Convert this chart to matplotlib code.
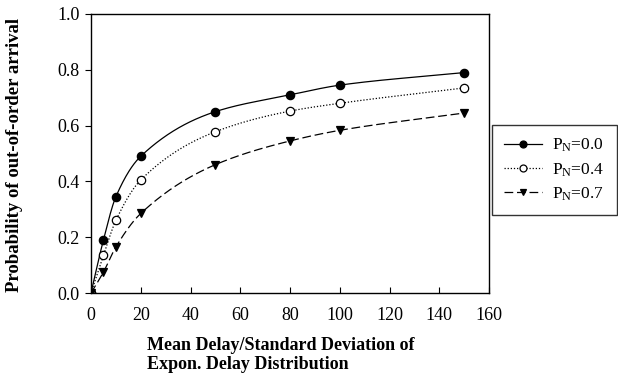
import numpy as np
import matplotlib
matplotlib.use("Agg")
import matplotlib.pyplot as plt

x = [0, 5, 10, 20, 50, 80, 100, 150]
p00 = [0.0, 0.19, 0.345, 0.49, 0.65, 0.71, 0.745, 0.79]
p04 = [0.0, 0.135, 0.26, 0.405, 0.578, 0.652, 0.68, 0.735]
p07 = [0.0, 0.075, 0.165, 0.285, 0.46, 0.545, 0.583, 0.645]
labels = [r"$\mathregular{P_N}$=0.0", r"$\mathregular{P_N}$=0.4", r"$\mathregular{P_N}$=0.7"]
xticks = [0, 20, 40, 60, 80, 100, 120, 140, 160]
yticks = [0.0, 0.2, 0.4, 0.6, 0.8, 1.0]


def pchip(xs, ys, xn):
    xs = np.asarray(xs, float); ys = np.asarray(ys, float)
    h = np.diff(xs); d = np.diff(ys) / h
    m = np.zeros_like(ys)
    for k in range(1, len(xs) - 1):
        if d[k - 1] * d[k] > 0:
            w1 = 2 * h[k] + h[k - 1]; w2 = h[k] + 2 * h[k - 1]
            m[k] = (w1 + w2) / (w1 / d[k - 1] + w2 / d[k])
    m[0] = d[0]; m[-1] = d[-1]
    idx = np.clip(np.searchsorted(xs, xn) - 1, 0, len(xs) - 2)
    t = (xn - xs[idx]) / h[idx]
    h00 = 2 * t**3 - 3 * t**2 + 1; h10 = t**3 - 2 * t**2 + t
    h01 = -2 * t**3 + 3 * t**2; h11 = t**3 - t**2
    return h00 * ys[idx] + h10 * h[idx] * m[idx] + h01 * ys[idx + 1] + h11 * h[idx] * m[idx + 1]

plt.rcParams['font.family'] = ['Liberation Serif', 'DejaVu Serif']
plt.rcParams['mathtext.fontset'] = 'custom'
plt.rcParams['mathtext.rm'] = 'Liberation Serif'

fig = plt.figure(figsize=(6.18, 3.89), dpi=100)
ax = fig.add_axes([91/618, 1-293/389, (489-91)/618, (293-14)/389])

xs = np.linspace(0, 150, 600)
styles = [
    dict(ls='-', marker='o', mfc='black', series=p00),
    dict(ls=(0, (1, 1.5)), marker='o', mfc='white', series=p04),
    dict(ls=(0, (7, 3)), marker='v', mfc='black', series=p07),
]
handles = []
for st, lab in zip(styles, labels):
    ys = st['series']
    ax.plot(xs, pchip(x, ys, xs), color='black', lw=0.9, ls=st['ls'])
    ax.plot(x, ys, ls='none', marker=st['marker'], ms=6, mfc=st['mfc'], mec='black', mew=0.9)
    h, = ax.plot([], [], color='black', lw=0.9, ls=st['ls'], marker=st['marker'],
                 ms=5, mfc=st['mfc'], mec='black', mew=0.9)
    handles.append(h)

ax.set_xlim(0, 160)
ax.set_ylim(0, 1.0)
ax.set_xticks(xticks)
ax.set_yticks(yticks)
ax.set_yticklabels([f"{v:.1f}" for v in yticks])
ax.tick_params(axis='x', direction='in', length=4, labelsize=13, pad=10)
ax.tick_params(axis='y', direction='out', length=4, labelsize=13, pad=4)
for s in ax.spines.values():
    s.set_linewidth(1.0)

fig.text(15/618, 1-155/389, "Probability of out-of-order arrival", rotation=90,
         fontsize=13.5, fontweight='bold', ha='center', va='center')
fig.text(147/618, 1-355/389, "Mean Delay/Standard Deviation of\nExpon. Delay Distribution",
         fontsize=13, fontweight='bold', ha='left', va='center', linespacing=1.1)

leg = fig.legend(handles, labels, loc='upper left', bbox_to_anchor=(492/618, 1-125/389),
                 frameon=True, fancybox=False, edgecolor='black', fontsize=12.5,
                 handlelength=2.2, borderpad=0.68, labelspacing=0.4, handletextpad=0.6,
                 borderaxespad=0)
leg.get_frame().set_linewidth(1.0)

fig.savefig("out.png", dpi=100)
